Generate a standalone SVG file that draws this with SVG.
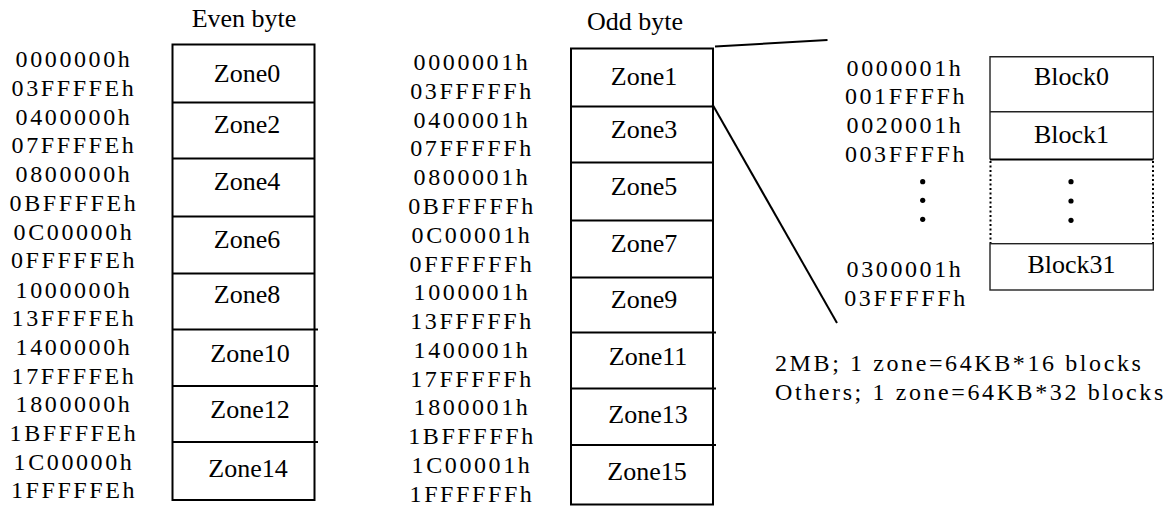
<svg xmlns="http://www.w3.org/2000/svg" width="1171" height="506" viewBox="0 0 1171 506">
<style>
text{font-family:"Liberation Serif","Times New Roman",serif;fill:#000}
.lbl{font-size:26px;text-anchor:middle}
.addr{font-size:24px;letter-spacing:2.6px;text-anchor:middle}
.note{font-size:24px;letter-spacing:2.6px}
.zbox{fill:none;stroke:#000;stroke-width:2}
.zdiv{stroke:#000;stroke-width:2;fill:none}
.bbox{fill:none;stroke:#222;stroke-width:1.4}
.dot{stroke:#000;stroke-width:2;stroke-dasharray:2 2.5;fill:none}
.conn{stroke:#000;stroke-width:2;fill:none}
</style>
<rect width="1171" height="506" fill="#fff"/>

<g id="even-column">
<text class="lbl" x="244" y="27">Even byte</text>
<rect class="zbox" x="172.5" y="44.5" width="142" height="455.5"/>
<path class="zdiv" d="M172.5 102.5H314.5M172.5 158.5H314.5M172.5 216.5H314.5M172.5 273.5H314.5M172.5 329.5H318M172.5 386H318M172.5 442H318"/>
<text class="lbl" x="247" y="82">Zone0</text>
<text class="lbl" x="247" y="133">Zone2</text>
<text class="lbl" x="247" y="190">Zone4</text>
<text class="lbl" x="247" y="248">Zone6</text>
<text class="lbl" x="247" y="303">Zone8</text>
<text class="lbl" x="250" y="362">Zone10</text>
<text class="lbl" x="250" y="418">Zone12</text>
<text class="lbl" x="248" y="477">Zone14</text>
</g>

<g id="even-addresses">
<text class="addr" x="74" y="67">0000000h</text>
<text class="addr" x="74" y="96">03FFFFEh</text>
<text class="addr" x="74" y="125">0400000h</text>
<text class="addr" x="74" y="153">07FFFFEh</text>
<text class="addr" x="74" y="182">0800000h</text>
<text class="addr" x="74" y="211">0BFFFFEh</text>
<text class="addr" x="74" y="240">0C00000h</text>
<text class="addr" x="74" y="268">0FFFFFEh</text>
<text class="addr" x="74" y="297.5">1000000h</text>
<text class="addr" x="74" y="326">13FFFFEh</text>
<text class="addr" x="74" y="355">1400000h</text>
<text class="addr" x="74" y="383.5">17FFFFEh</text>
<text class="addr" x="74" y="412">1800000h</text>
<text class="addr" x="74" y="441">1BFFFFEh</text>
<text class="addr" x="74" y="470">1C00000h</text>
<text class="addr" x="74" y="498">1FFFFFEh</text>
</g>

<g id="odd-column">
<text class="lbl" x="635" y="30">Odd byte</text>
<rect class="zbox" x="571" y="48.5" width="142" height="456"/>
<path class="zdiv" d="M571 106.5H713M571 162.5H713M571 220.5H713M571 277.5H713M571 332.5H716M571 388.5H716M571 445H716"/>
<text class="lbl" x="644" y="85">Zone1</text>
<text class="lbl" x="644" y="138">Zone3</text>
<text class="lbl" x="644" y="195">Zone5</text>
<text class="lbl" x="644" y="252">Zone7</text>
<text class="lbl" x="644" y="308">Zone9</text>
<text class="lbl" x="648" y="365">Zone11</text>
<text class="lbl" x="648" y="423">Zone13</text>
<text class="lbl" x="647" y="480">Zone15</text>
</g>

<g id="odd-addresses">
<text class="addr" x="472" y="70">0000001h</text>
<text class="addr" x="472" y="99">03FFFFFh</text>
<text class="addr" x="472" y="128">0400001h</text>
<text class="addr" x="472" y="156">07FFFFFh</text>
<text class="addr" x="472" y="185">0800001h</text>
<text class="addr" x="472" y="214">0BFFFFFh</text>
<text class="addr" x="472" y="243">0C00001h</text>
<text class="addr" x="472" y="272">0FFFFFFh</text>
<text class="addr" x="472" y="300">1000001h</text>
<text class="addr" x="472" y="329">13FFFFFh</text>
<text class="addr" x="472" y="358">1400001h</text>
<text class="addr" x="472" y="387">17FFFFFh</text>
<text class="addr" x="472" y="415">1800001h</text>
<text class="addr" x="472" y="444">1BFFFFFh</text>
<text class="addr" x="472" y="473">1C00001h</text>
<text class="addr" x="472" y="502">1FFFFFFh</text>
</g>

<g id="connectors">
<path class="conn" d="M715 46.5L827.5 40"/>
<path class="conn" d="M712.5 104.5L837 323"/>
</g>

<g id="block-column">
<path class="bbox" d="M990 159.5V56.7H1153.3V159.5M990 111.7H1153.3"/>
<path d="M990 159.5H1153.3" stroke="#000" stroke-width="1.8"/>
<path class="dot" d="M990.5 161V243M1153 161V243"/>
<rect class="bbox" x="990" y="243.7" width="163.3" height="46.3"/>
<text class="lbl" x="1071.5" y="85">Block0</text>
<text class="lbl" x="1071.5" y="143">Block1</text>
<text class="lbl" x="1071.5" y="272.5">Block31</text>
<circle cx="1071" cy="181.7" r="2.6"/>
<circle cx="1071" cy="201" r="2.6"/>
<circle cx="1071" cy="220.3" r="2.6"/>
</g>

<g id="block-addresses">
<text class="addr" x="905" y="76">0000001h</text>
<text class="addr" x="906" y="104">001FFFFh</text>
<text class="addr" x="905" y="133">0020001h</text>
<text class="addr" x="906" y="162">003FFFFh</text>
<circle cx="922.7" cy="181.7" r="2.6"/>
<circle cx="922.7" cy="200.3" r="2.6"/>
<circle cx="922.7" cy="219.3" r="2.6"/>
<text class="addr" x="905" y="277">0300001h</text>
<text class="addr" x="906" y="306">03FFFFFh</text>
</g>

<g id="notes">
<text class="note" x="775" y="371">2MB; 1 zone=64KB*16 blocks</text>
<text class="note" x="775" y="399.5">Others; 1 zone=64KB*32 blocks</text>
</g>
</svg>
